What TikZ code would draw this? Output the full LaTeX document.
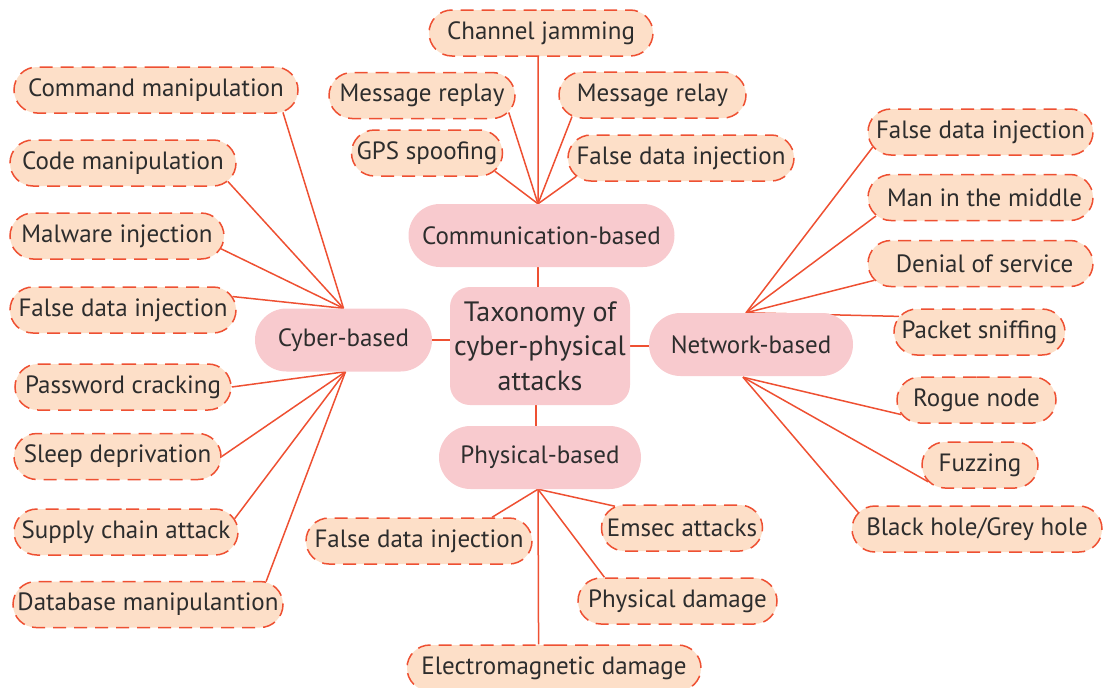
\documentclass[tikz,border=0pt]{standalone}
\usepackage{fontspec}
\setmainfont{PT Sans}
\usetikzlibrary{shapes.misc,calc}
\pgfdeclarelayer{background}
\pgfsetlayers{background,main}
\definecolor{linec}{RGB}{238,80,50}
\definecolor{leaff}{RGB}{253,223,200}
\definecolor{catf}{RGB}{248,202,206}
\definecolor{txt}{RGB}{45,45,45}
\tikzset{
  leaf/.style={rounded rectangle, draw=linec, line width=1.5pt,
    dash pattern=on 13pt off 8pt, fill=leaff, text=txt,
    font=\fontsize{25}{30}\selectfont, minimum height=46pt, inner sep=0pt},
  cat/.style={rounded rectangle, fill=catf, text=txt,
    font=\fontsize{25}{30}\selectfont, minimum height=63pt, inner sep=0pt},
  root/.style={rectangle, rounded corners=20pt, fill=catf, text=txt,
    font=\fontsize{28}{34.5}\selectfont, align=center,
    minimum width=180pt, minimum height=118pt, inner sep=0pt},
  link/.style={draw=linec, line width=1.5pt}
}
\begin{document}
\begin{tikzpicture}[x=1pt,y=-1pt]
\useasboundingbox (0,0) rectangle (1103,688);

% hub and its four categories
\node[root] (root) at (540,346) {Taxonomy of\\cyber-physical\\attacks};
\node[cat, minimum width=266pt] (comm) at (541.5,235.5) {Communication-based};
\node[cat, minimum width=177pt] (cyber) at (343.5,340) {Cyber-based};
\node[cat, minimum width=204pt] (net) at (751,344.5) {Network-based};
\node[cat, minimum width=202pt] (phys) at (540,457.5) {Physical-based};

% communication-based attacks
\node[leaf, minimum width=224pt] (cj) at (541,33) {Channel jamming};
\node[leaf, minimum width=186pt] (mrep) at (422,95.5) {Message replay};
\node[leaf, minimum width=187pt] (mrel) at (652.5,95) {Message relay};
\node[leaf, minimum width=151pt] (gps) at (427,153) {GPS spoofing};
\node[leaf, minimum width=226pt] (fdc) at (681,158) {False data injection};

% cyber-based attacks
\node[leaf, minimum width=284pt] (cmd) at (156,90) {Command manipulation};
\node[leaf, minimum width=226pt] (code) at (123,163) {Code manipulation};
\node[leaf, minimum width=214pt] (mal) at (117,236) {Malware injection};
\node[leaf, minimum width=226pt] (fdy) at (123,310) {False data injection};
\node[leaf, minimum width=216pt] (pwd) at (123,387) {Password cracking};
\node[leaf, minimum width=207pt] (sleep) at (117.5,456.5) {Sleep deprivation};
\node[leaf, minimum width=224pt] (supply) at (126,532) {Supply chain attack};
\node[leaf, minimum width=270pt] (db) at (148,604.5) {Database manipulantion};

% network-based attacks
\node[leaf, minimum width=225pt] (fdn) at (980.5,132) {False data injection};
\node[leaf, minimum width=225pt] (mitm) at (980.5,197.5) {\hspace*{8pt}Man in the middle};
\node[leaf, minimum width=225pt] (dos) at (980.5,263.5) {\hspace*{8pt}Denial of service};
\node[leaf, minimum width=171pt] (pkt) at (979.5,332) {Packet sniffing};
\node[leaf, minimum width=159pt] (rogue) at (976.5,400) {Rogue node};
\node[leaf, minimum width=116pt] (fuzz) at (980,465) {Fuzzing};
\node[leaf, minimum width=250pt] (bh) at (977,529) {Black hole/Grey hole};

% physical-based attacks
\node[leaf, minimum width=226pt] (fdp) at (419,541) {False data injection};
\node[leaf, minimum width=161pt] (emsec) at (682,528) {Emsec attacks};
\node[leaf, minimum width=199pt] (pdam) at (677.5,601) {Physical damage};
\node[leaf, minimum width=294pt] (emd) at (554,668) {Electromagnetic damage};

% fan-out points on the category borders
\coordinate (commhub) at ($(comm.north)+(-3.5,0)$);
\coordinate (cyup) at (cyber.north);
\coordinate (cydown) at ($(cyber.south)+(2,0)$);
\coordinate (netup) at ($(net.north)+(-5,0)$);
\coordinate (netdown) at ($(net.south)+(-8,1)$);
\coordinate (physhub) at ($(phys.south)+(-2,0)$);

\begin{pgfonlayer}{background}
  % root to categories
  \draw[link] (cyber.east) -- (cyber.east -| root.west);
  \draw[link] (root.east) -- (root.east -| net.west);
  \draw[link] ($(comm.south)+(-3.5,0)$) -- ($(root.north)+(-2,0)$);
  \draw[link] ($(root.south)+(-4,0)$) -- ($(phys.north)+(-4,0)$);
  % communication-based
  \draw[link] (commhub) -- (cj.-97);
  \draw[link] (commhub) -- (mrep.-11.6);
  \draw[link] (commhub) -- (mrel.195.3);
  \draw[link] (commhub) -- (gps.-15.4);
  \draw[link] (commhub) -- (fdc.190.3);
  % cyber-based
  \draw[link] (cyup) -- (cmd.-10.9);
  \draw[link] (cyup) -- (code.-10);
  \draw[link] (cyup) -- (mal.-7.7);
  \draw[link] (cyup) -- (fdy.7.8);
  \draw[link] (cydown) -- (pwd.0.5);
  \draw[link] (cydown) -- (sleep.east);
  \draw[link] (cydown) -- (supply.7.8);
  \draw[link] (cydown) -- (db.11.9);
  % network-based
  \draw[link] (netup) -- (fdn.188.2);
  \draw[link] (netup) -- (mitm.190.7);
  \draw[link] (netup) -- (dos.189.6);
  \draw[link] (netup) -- (pkt.169.6);
  \draw[link] (netdown) -- (rogue.191.5);
  \draw[link] (netdown) -- (fuzz.198.8);
  \draw[link] (netdown) -- (bh.172.3);
  % physical-based
  \draw[link] (physhub) -- (fdp.18.9);
  \draw[link] (physhub) -- (emsec.162.3);
  \draw[link] (physhub) -- (pdam.162.4);
  \draw[link] (physhub) -- (emd.123.1);
\end{pgfonlayer}
\end{tikzpicture}
\end{document}
